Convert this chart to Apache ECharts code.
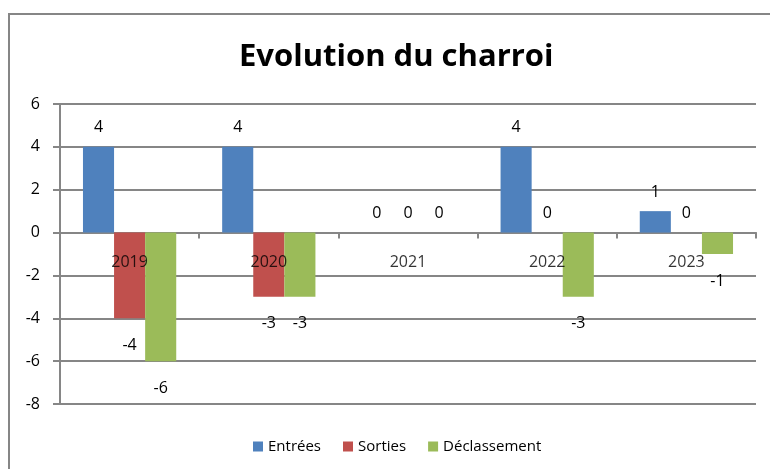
<!DOCTYPE html>
<html>
<head>
<meta charset="utf-8">
<script src="https://cdn.jsdelivr.net/npm/echarts@6/dist/echarts.min.js"></script>
<style>html,body{margin:0;padding:0;background:#fff;}#c{width:770px;height:469px;}</style>
</head>
<body>
<div id="c"></div>
<script>
var categories = ['2019', '2020', '2021', '2022', '2023'];
var entrees = [4, 4, 0, 4, 1];
var sorties = [-4, -3, 0, 0, 0];
var declassement = [-6, -3, 0, -3, -1];
var yTicks = [-8, -6, -4, -2, 0, 2, 4, 6];

var FONT = '"Open Sans", sans-serif';
function items(arr) {
  return arr.map(function (v) {
    return {
      value: v,
      label: v >= 0 ? { position: 'top', distance: 11 } : { position: 'bottom', distance: 19 }
    };
  });
}
function series(name, arr, color) {
  return {
    name: name, type: 'bar', data: items(arr),
    barGap: '0%', barCategoryGap: '33%',
    itemStyle: { color: color },
    label: { show: true, color: '#000', fontSize: 16, fontFamily: FONT },
    emphasis: { disabled: true }, z: 2
  };
}
var chart = echarts.init(document.getElementById('c'), null, { renderer: 'canvas' });
chart.setOption({
  animation: false,
  backgroundColor: '#fff',
  title: {
    text: 'Evolution du charroi', left: 234, top: 37,
    textStyle: { fontFamily: FONT, fontWeight: 'bold', fontSize: 31, color: '#000' }
  },
  graphic: [{
    type: 'rect', shape: { x: 9, y: 14, width: 800, height: 500 },
    style: { fill: 'none', stroke: '#868686', lineWidth: 2 }, silent: true
  }],
  grid: { left: 60, right: 14, top: 104, bottom: 65 },
  legend: {
    bottom: 10, left: 248, icon: 'rect', itemWidth: 10, itemHeight: 10, itemGap: 22,
    textStyle: { fontFamily: FONT, fontSize: 15, color: '#000' },
    data: ['Entrées', 'Sorties', 'Déclassement']
  },
  xAxis: {
    type: 'category', data: categories,
    axisLine: { onZero: true, lineStyle: { color: '#868686', width: 2 } },
    axisTick: { show: true, length: 6, lineStyle: { color: '#868686', width: 2 } },
    axisLabel: { show: false },
    splitLine: { show: false }
  },
  yAxis: {
    type: 'value', min: yTicks[0], max: yTicks[yTicks.length - 1], interval: 2,
    axisLine: { show: true, lineStyle: { color: '#868686', width: 2 } },
    axisTick: { show: true, length: 7, lineStyle: { color: '#868686', width: 2 } },
    axisLabel: { color: '#000', fontSize: 16, fontFamily: FONT, margin: 20 },
    splitLine: { lineStyle: { color: '#868686', width: 2 } }
  },
  series: [
    series('Entrées', entrees, '#4F81BD'),
    series('Sorties', sorties, '#C0504D'),
    series('Déclassement', declassement, '#9BBB59'),
    {
      name: 'axisLabels', type: 'scatter', symbolSize: 0, silent: true, z: 5,
      data: categories.map(function (c) { return [c, 0]; }),
      label: {
        show: true, position: 'bottom', distance: 22, color: '#000', fontSize: 16, fontFamily: FONT,
        formatter: function (p) { return p.value[0]; }
      },
      tooltip: { show: false }
    }
  ]
});
</script>
</body>
</html>
